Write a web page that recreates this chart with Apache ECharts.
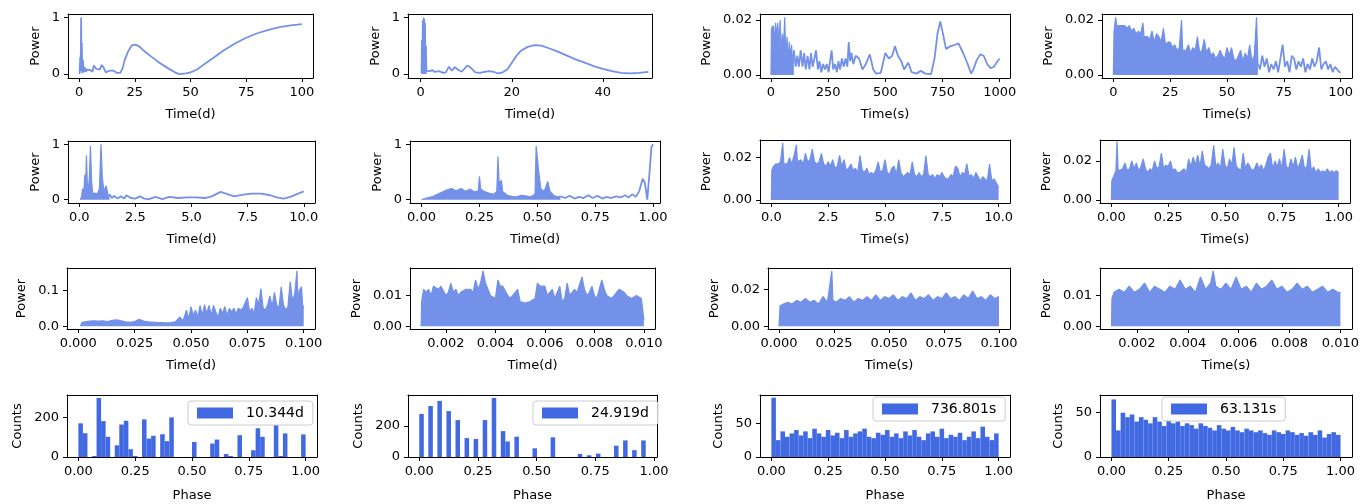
<!DOCTYPE html>
<html>
<head>
<meta charset="utf-8">
<script src="https://cdn.jsdelivr.net/npm/echarts@6/dist/echarts.min.js"></script>
<style>
  html, body { margin: 0; padding: 0; background: #fff; }
  #chart { width: 1362px; height: 504px; }
</style>
</head>
<body>
<div id="chart"></div>
<script>
// ---- Periodogram power vs. trial period ([period, power]) ----
const powDay100 = [[0.2,0.0],[0.5,0.3],[0.7,0.05],[0.9,1.0],[1.05,0.1],[1.2,0.55],[1.4,0.02],[1.7,0.25],[2.0,0.03],[2.5,0.12],[3.0,0.04],[3.5,0.08],[4,0.05],[5,0.07],[6,0.04],[6.6,0.15],[7.7,0.09],[8.5,0.06],[9.2,0.08],[10.2,0.16],[11,0.11],[12,0.03],[13,0.05],[14,0.06],[15.5,0.06],[17,0.02],[18.5,0.02],[19.5,0.1],[20.5,0.25],[22,0.4],[23.5,0.5],[25,0.52],[26.5,0.5],[28,0.45],[30,0.38],[33,0.29],[36,0.2],[40,0.1],[43,0.03],[45,0.0],[48,0.01],[50,0.03],[53,0.08],[56,0.17],[60,0.28],[65,0.42],[70,0.54],[75,0.64],[80,0.72],[85,0.78],[90,0.83],[95,0.86],[100,0.88]];
const powDay50 = [[0.1,0.02],[0.2,0.6],[0.3,0.1],[0.4,0.95],[0.5,0.2],[0.6,1.0],[0.7,0.3],[0.8,0.98],[0.9,0.15],[1.0,0.9],[1.1,0.1],[1.2,0.5],[1.3,0.05],[1.6,0.08],[2.0,0.05],[2.5,0.07],[3,0.04],[4,0.05],[5,0.02],[5.5,0.03],[6.2,0.13],[6.8,0.06],[7.5,0.12],[8.3,0.07],[9,0.04],[10.2,0.15],[11,0.11],[12,0.03],[13,0.02],[14,0.04],[15,0.05],[16,0.04],[17,0.01],[18,0.03],[19,0.08],[20,0.2],[21,0.32],[22,0.41],[23.5,0.48],[25,0.51],[26.5,0.5],[28,0.46],[30,0.4],[32,0.33],[34,0.26],[36,0.2],[38,0.14],[40,0.09],[42,0.05],[44,0.02],[46,0.01],[48,0.02],[50,0.04]];
const powSec1000 = [[0,0.0],[2,0.017],[10,0.018],[15,0.012],[20,0.019],[25,0.014],[30,0.019],[35,0.01],[40,0.02],[45,0.008],[50,0.015],[55,0.01],[60,0.021],[65,0.006],[70,0.014],[75,0.005],[80,0.012],[85,0.006],[90,0.011],[95,0.004],[100,0.009],[108,0.003],[115,0.007],[122,0.003],[130,0.009],[138,0.003],[145,0.008],[152,0.002],[160,0.007],[168,0.002],[175,0.008],[182,0.003],[190,0.006],[197,0.009],[205,0.002],[212,0.005],[220,0.001],[228,0.004],[236,0.002],[244,0.004],[252,0.001],[260,0.006],[265,0.009],[272,0.002],[280,0.004],[288,0.001],[295,0.005],[302,0.002],[310,0.006],[318,0.003],[326,0.006],[334,0.003],[340,0.012],[346,0.005],[352,0.008],[360,0.004],[370,0.007],[385,0.006],[400,0.002],[415,0.004],[432,0.0075],[447,0.002],[460,0.0005],[480,0.0008],[500,0.008],[515,0.006],[530,0.007],[542,0.0105],[555,0.007],[570,0.005],[582,0.002],[600,0.0045],[615,0.001],[635,0.0005],[655,0.0015],[675,0.0005],[700,0.0003],[715,0.006],[728,0.015],[740,0.0195],[752,0.015],[765,0.0095],[785,0.0105],[805,0.011],[820,0.0115],[840,0.008],[860,0.004],[875,0.0005],[885,0.002],[900,0.0055],[915,0.0075],[930,0.007],[945,0.004],[960,0.0025],[975,0.003],[990,0.005],[1000,0.006]];
const powSec100 = [[0,0.0],[0.3,0.016],[1,0.021],[1.5,0.018],[3,0.018],[5,0.018],[6,0.017],[7,0.018],[8,0.016],[9,0.017],[10,0.015],[11,0.016],[12,0.015],[13,0.019],[13.5,0.014],[15,0.014],[16,0.013],[17,0.016],[18,0.012],[19,0.015],[20,0.014],[21,0.012],[22,0.017],[23,0.011],[24,0.012],[25,0.012],[26,0.01],[27,0.011],[28,0.009],[29,0.01],[30,0.02],[30.5,0.009],[32,0.009],[33,0.011],[34,0.008],[35,0.01],[36,0.009],[37,0.014],[38,0.008],[39,0.009],[40,0.013],[41,0.008],[42,0.01],[43,0.007],[44,0.008],[45,0.006],[46,0.007],[47,0.009],[48,0.007],[49,0.006],[50,0.01],[51,0.007],[52,0.01],[53,0.006],[54,0.005],[55,0.007],[56,0.009],[57,0.005],[58,0.008],[59,0.006],[60,0.011],[61,0.005],[62,0.007],[63,0.021],[63.6,0.004],[64.5,0.002],[65.5,0.007],[66.5,0.003],[67.5,0.006],[68.5,0.001],[69.5,0.004],[70.5,0.002],[71.5,0.005],[72.5,0.001],[73.5,0.006],[74.5,0.011],[75.5,0.003],[76.5,0.005],[77.5,0.001],[78.5,0.007],[79.5,0.006],[80.5,0.002],[81.5,0.005],[82.5,0.003],[83.5,0.006],[84.5,0.001],[85.5,0.004],[86.5,0.002],[87.5,0.006],[88.5,0.003],[89.5,0.005],[90.5,0.01],[91.5,0.002],[92.5,0.004],[93.5,0.005],[94.5,0.002],[95.5,0.004],[96.5,0.001],[97.5,0.003],[98.5,0.002],[99.5,0.001],[100,0.001]];

const powDay10 = [[0.05,0.0],[0.1,0.05],[0.15,0.2],[0.2,0.1],[0.25,0.45],[0.28,0.2],[0.32,0.8],[0.36,0.3],[0.4,0.15],[0.45,0.4],[0.5,0.97],[0.55,0.35],[0.6,0.1],[0.7,0.12],[0.8,0.1],[0.9,0.2],[0.97,1.0],[1.03,0.4],[1.1,0.15],[1.2,0.25],[1.3,0.05],[1.35,0.1],[1.45,0.03],[1.55,0.07],[1.7,0.02],[1.85,0.06],[2.0,0.02],[2.1,0.08],[2.3,0.03],[2.5,0.02],[2.7,0.06],[2.9,0.02],[3.1,0.01],[3.4,0.05],[3.7,0.01],[4.0,0.05],[4.4,0.03],[4.8,0.04],[5.2,0.04],[5.6,0.03],[5.9,0.06],[6.3,0.14],[6.6,0.1],[6.9,0.06],[7.3,0.09],[7.7,0.11],[8.1,0.11],[8.5,0.08],[8.8,0.04],[9.1,0.02],[9.4,0.05],[9.7,0.1],[10,0.15]];
const powDay1 = [[0,0.0],[0.005,0.03],[0.03,0.04],[0.05,0.06],[0.07,0.1],[0.09,0.14],[0.11,0.18],[0.13,0.2],[0.15,0.16],[0.17,0.2],[0.19,0.15],[0.21,0.19],[0.23,0.14],[0.245,0.16],[0.25,0.42],[0.255,0.2],[0.27,0.15],[0.29,0.12],[0.31,0.1],[0.325,0.15],[0.33,0.78],[0.335,0.3],[0.345,0.35],[0.35,0.15],[0.37,0.08],[0.39,0.06],[0.41,0.05],[0.43,0.08],[0.45,0.07],[0.47,0.05],[0.49,0.1],[0.495,0.97],[0.505,0.55],[0.515,0.2],[0.53,0.15],[0.545,0.33],[0.555,0.15],[0.57,0.08],[0.585,0.05],[0.6,0.06],[0.62,0.03],[0.64,0.07],[0.66,0.02],[0.68,0.05],[0.7,0.03],[0.72,0.08],[0.74,0.03],[0.76,0.07],[0.78,0.02],[0.8,0.05],[0.82,0.03],[0.84,0.06],[0.86,0.04],[0.88,0.08],[0.895,0.04],[0.91,0.1],[0.925,0.05],[0.94,0.15],[0.955,0.38],[0.965,0.3],[0.975,0.0],[0.985,0.5],[0.993,0.95],[1.0,1.0]];
const powSec10 = [[0,0],[0.02,0.014],[0.1,0.016],[0.2,0.017],[0.3,0.017],[0.4,0.018],[0.5,0.027],[0.55,0.017],[0.7,0.017],[0.8,0.02],[0.9,0.017],[1.0,0.021],[1.1,0.026],[1.15,0.018],[1.3,0.019],[1.4,0.017],[1.5,0.022],[1.6,0.018],[1.7,0.019],[1.8,0.024],[1.9,0.018],[2.0,0.017],[2.1,0.018],[2.2,0.022],[2.3,0.017],[2.4,0.016],[2.5,0.018],[2.6,0.016],[2.7,0.019],[2.8,0.015],[2.9,0.016],[3.0,0.021],[3.1,0.016],[3.2,0.019],[3.3,0.014],[3.4,0.015],[3.5,0.017],[3.6,0.014],[3.7,0.015],[3.8,0.013],[3.9,0.021],[4.0,0.014],[4.1,0.013],[4.2,0.015],[4.3,0.012],[4.4,0.013],[4.5,0.012],[4.6,0.014],[4.7,0.018],[4.8,0.013],[4.9,0.014],[5.0,0.019],[5.1,0.013],[5.2,0.012],[5.3,0.015],[5.4,0.016],[5.5,0.012],[5.6,0.019],[5.7,0.013],[5.8,0.011],[5.9,0.012],[6.0,0.013],[6.1,0.012],[6.2,0.018],[6.3,0.012],[6.4,0.011],[6.5,0.013],[6.6,0.011],[6.7,0.012],[6.8,0.021],[6.9,0.012],[7.0,0.011],[7.1,0.012],[7.2,0.01],[7.3,0.012],[7.4,0.011],[7.5,0.013],[7.6,0.011],[7.7,0.01],[7.8,0.01],[7.9,0.012],[8.0,0.011],[8.1,0.016],[8.2,0.015],[8.3,0.011],[8.4,0.013],[8.5,0.012],[8.6,0.017],[8.7,0.011],[8.8,0.012],[8.9,0.01],[9.0,0.013],[9.1,0.011],[9.2,0.009],[9.3,0.011],[9.4,0.01],[9.5,0.009],[9.6,0.017],[9.7,0.009],[9.8,0.01],[9.9,0.008],[10.0,0.006]];
const powSec1 = [[0,0],[0.002,0.01],[0.01,0.012],[0.02,0.015],[0.025,0.03],[0.03,0.015],[0.05,0.016],[0.06,0.019],[0.07,0.015],[0.08,0.016],[0.09,0.02],[0.1,0.016],[0.11,0.019],[0.12,0.015],[0.13,0.017],[0.14,0.021],[0.15,0.016],[0.16,0.014],[0.17,0.016],[0.18,0.015],[0.19,0.02],[0.2,0.016],[0.21,0.017],[0.22,0.024],[0.23,0.016],[0.24,0.018],[0.25,0.017],[0.26,0.02],[0.27,0.015],[0.28,0.016],[0.29,0.014],[0.3,0.014],[0.31,0.015],[0.32,0.016],[0.33,0.014],[0.34,0.021],[0.35,0.017],[0.36,0.022],[0.37,0.018],[0.38,0.023],[0.39,0.017],[0.4,0.025],[0.41,0.018],[0.42,0.017],[0.43,0.016],[0.44,0.018],[0.45,0.028],[0.46,0.017],[0.47,0.019],[0.48,0.016],[0.49,0.026],[0.5,0.018],[0.51,0.016],[0.52,0.021],[0.53,0.018],[0.54,0.027],[0.55,0.017],[0.56,0.016],[0.57,0.015],[0.58,0.024],[0.59,0.016],[0.6,0.019],[0.61,0.017],[0.62,0.015],[0.63,0.016],[0.64,0.019],[0.65,0.016],[0.66,0.018],[0.67,0.015],[0.68,0.018],[0.69,0.022],[0.7,0.024],[0.71,0.016],[0.72,0.02],[0.73,0.017],[0.74,0.021],[0.75,0.016],[0.76,0.026],[0.77,0.017],[0.78,0.016],[0.79,0.021],[0.8,0.017],[0.81,0.022],[0.82,0.016],[0.83,0.019],[0.84,0.023],[0.85,0.016],[0.86,0.017],[0.87,0.026],[0.88,0.015],[0.89,0.017],[0.9,0.014],[0.91,0.016],[0.92,0.014],[0.93,0.015],[0.94,0.014],[0.95,0.016],[0.96,0.014],[0.97,0.015],[0.98,0.014],[0.99,0.015],[1.0,0.014]];

const powDay01 = [[0.001,0],[0.0015,0.01],[0.003,0.012],[0.005,0.014],[0.007,0.015],[0.009,0.014],[0.011,0.015],[0.013,0.013],[0.015,0.016],[0.017,0.018],[0.019,0.015],[0.021,0.012],[0.023,0.011],[0.025,0.013],[0.027,0.019],[0.029,0.014],[0.031,0.012],[0.033,0.011],[0.035,0.01],[0.037,0.01],[0.039,0.009],[0.041,0.01],[0.043,0.012],[0.045,0.025],[0.0465,0.015],[0.048,0.045],[0.049,0.02],[0.05,0.055],[0.051,0.03],[0.052,0.045],[0.053,0.025],[0.054,0.058],[0.055,0.03],[0.056,0.06],[0.057,0.035],[0.058,0.058],[0.059,0.03],[0.06,0.058],[0.061,0.04],[0.062,0.025],[0.063,0.05],[0.064,0.035],[0.065,0.055],[0.066,0.03],[0.067,0.05],[0.068,0.04],[0.069,0.05],[0.07,0.035],[0.071,0.05],[0.072,0.045],[0.073,0.05],[0.074,0.065],[0.075,0.08],[0.076,0.04],[0.077,0.05],[0.078,0.035],[0.079,0.08],[0.08,0.06],[0.081,0.105],[0.082,0.05],[0.083,0.045],[0.084,0.06],[0.085,0.085],[0.086,0.055],[0.087,0.095],[0.088,0.06],[0.089,0.05],[0.09,0.11],[0.091,0.06],[0.092,0.045],[0.093,0.055],[0.094,0.125],[0.095,0.07],[0.096,0.09],[0.097,0.155],[0.0975,0.06],[0.098,0.1],[0.099,0.11],[0.0995,0.06],[0.1,0.05]];
const powDay001 = [[0.001,0.0],[0.00102,0.008],[0.0011,0.012],[0.0012,0.011],[0.0013,0.012],[0.0014,0.01],[0.0015,0.013],[0.0017,0.012],[0.0018,0.013],[0.002,0.01],[0.0021,0.011],[0.0022,0.014],[0.0023,0.011],[0.0024,0.012],[0.0025,0.01],[0.0026,0.011],[0.0028,0.012],[0.003,0.012],[0.0031,0.011],[0.0032,0.015],[0.0033,0.012],[0.0034,0.014],[0.0035,0.018],[0.0036,0.014],[0.0037,0.012],[0.0038,0.01],[0.004,0.009],[0.0041,0.015],[0.0042,0.013],[0.0043,0.013],[0.0045,0.01],[0.0046,0.009],[0.0048,0.011],[0.0049,0.012],[0.005,0.008],[0.0052,0.0075],[0.0054,0.008],[0.0056,0.009],[0.0057,0.014],[0.0058,0.013],[0.006,0.013],[0.0061,0.01],[0.0062,0.011],[0.0063,0.012],[0.0064,0.009],[0.0066,0.013],[0.0067,0.008],[0.0068,0.009],[0.0069,0.014],[0.007,0.01],[0.0072,0.012],[0.0073,0.011],[0.0075,0.016],[0.0076,0.012],[0.0077,0.01],[0.0078,0.011],[0.0079,0.013],[0.008,0.01],[0.0081,0.009],[0.0082,0.012],[0.0083,0.015],[0.0084,0.012],[0.0085,0.01],[0.0087,0.009],[0.0088,0.01],[0.009,0.012],[0.0092,0.011],[0.0093,0.01],[0.0095,0.009],[0.0097,0.01],[0.0099,0.009],[0.01,0.002]];
const powSec01 = [[0,0],[0.0005,0.011],[0.002,0.012],[0.004,0.013],[0.006,0.012],[0.008,0.014],[0.01,0.013],[0.012,0.015],[0.014,0.013],[0.016,0.014],[0.018,0.012],[0.02,0.016],[0.022,0.013],[0.024,0.03],[0.0245,0.014],[0.026,0.013],[0.028,0.015],[0.03,0.014],[0.032,0.016],[0.034,0.013],[0.036,0.015],[0.038,0.014],[0.04,0.016],[0.042,0.014],[0.044,0.017],[0.046,0.014],[0.048,0.016],[0.05,0.015],[0.052,0.017],[0.054,0.014],[0.056,0.016],[0.058,0.015],[0.06,0.018],[0.062,0.014],[0.064,0.016],[0.066,0.015],[0.068,0.017],[0.07,0.014],[0.072,0.016],[0.074,0.015],[0.076,0.018],[0.078,0.015],[0.08,0.016],[0.082,0.014],[0.084,0.017],[0.086,0.015],[0.088,0.019],[0.09,0.015],[0.092,0.016],[0.094,0.014],[0.096,0.017],[0.098,0.015],[0.1,0.016]];
const powSec001 = [[0.001,0],[0.00102,0.009],[0.0011,0.011],[0.0013,0.012],[0.0015,0.011],[0.0017,0.013],[0.0019,0.011],[0.0021,0.012],[0.0023,0.014],[0.0025,0.011],[0.0027,0.013],[0.0029,0.012],[0.0031,0.011],[0.0033,0.013],[0.0035,0.012],[0.0037,0.015],[0.0039,0.012],[0.0041,0.013],[0.0043,0.011],[0.0045,0.016],[0.0047,0.012],[0.0049,0.014],[0.005,0.018],[0.0051,0.013],[0.0053,0.012],[0.0055,0.014],[0.0057,0.012],[0.0059,0.016],[0.0061,0.012],[0.0063,0.013],[0.0065,0.011],[0.0067,0.014],[0.0069,0.012],[0.0071,0.013],[0.0073,0.015],[0.0075,0.012],[0.0077,0.013],[0.0079,0.011],[0.0081,0.012],[0.0083,0.014],[0.0085,0.012],[0.0087,0.013],[0.0089,0.011],[0.0091,0.012],[0.0093,0.013],[0.0095,0.011],[0.0097,0.012],[0.0099,0.011],[0.01,0.011]];

// ---- Phase-folded histograms (counts per phase bin) ----
const foldA = { label: '10.344d', binWidth: 0.02, counts: [170,120,0,5,298,181,102,0,59,164,183,39,5,0,190,93,107,0,115,80,200,0,0,0,0,76,0,0,0,68,88,0,15,5,0,110,0,0,34,145,102,0,0,161,5,119,0,0,0,114] };
const foldB = { label: '24.919d', binWidth: 0.0193, counts: [278,0,329,0,362,0,296,0,238,0,122,0,116,0,238,0,381,0,167,100,0,131,0,0,0,56,0,0,0,127,0,0,0,0,0,20,0,11,0,22,0,0,0,73,0,107,0,44,0,107] };
const foldC = { label: '736.801s', binWidth: 0.02, counts: [88,25,38,30,35,40,32,38,28,42,35,30,40,32,36,28,40,30,35,38,42,30,28,36,33,40,30,35,28,38,32,40,30,25,35,38,30,42,28,33,30,36,25,30,38,28,45,30,25,35] };
const foldD = { label: '63.131s', binWidth: 0.02, counts: [65,30,50,45,48,40,45,42,38,45,40,35,42,38,40,35,38,36,32,38,35,33,30,36,32,30,34,30,28,32,30,28,30,27,25,30,28,26,30,28,25,27,24,28,25,30,22,26,28,25] };

// ---- Tick values ----
const ticksPow01 = [0, 1];
const ticksPowSmall = [0, 0.02];
const ticksPow1 = [0, 0.1];
const ticksPow001 = [0, 0.01];
const ticksDay100 = [0, 25, 50, 75, 100];
const ticksDay50 = [0, 20, 40];
const ticksSec1000 = [0, 250, 500, 750, 1000];
const ticksTen = [0, 2.5, 5, 7.5, 10];
const ticksUnit = [0, 0.25, 0.5, 0.75, 1];
const ticksTenth = [0, 0.025, 0.05, 0.075, 0.1];
const ticksHundredth = [0.002, 0.004, 0.006, 0.008, 0.01];
const ticksCount200 = [0, 200];
const ticksCount50 = [0, 50];

const FONT = 'DejaVu Sans';
const FS = 13;
const LEGEND_FS = 14;
const LINE_COLOR = '#7391e8';
const BAR_COLOR = '#4169e1';
const TICK_LEN = 4;
const LABEL_MARGIN = 8;
const YNAME_PAD = 10;

// panel: box = [left, top, right, bottom] in px, xGap = distance from axis to its title
const panels = [
  { box: [68, 14, 313, 78], xGap: 30, data: powDay100, fillTo: 0, x: { min: -5, max: 105, ticks: ticksDay100, dec: 0, name: 'Time(d)' }, y: { min: -0.07, max: 1.06, ticks: ticksPow01, dec: 0, name: 'Power' } },
  { box: [408, 14, 652, 78], xGap: 30, data: powDay50, fillTo: 1.3, x: { min: -2.8, max: 50.8, ticks: ticksDay50, dec: 0, name: 'Time(d)' }, y: { min: -0.07, max: 1.06, ticks: ticksPow01, dec: 0, name: 'Power' } },
  { box: [760, 14, 1010, 78], xGap: 30, data: powSec1000, fillTo: 100, x: { min: -48, max: 1045, ticks: ticksSec1000, dec: 0, name: 'Time(s)' }, y: { min: -0.0011, max: 0.0222, ticks: ticksPowSmall, dec: 2, name: 'Power' } },
  { box: [1102, 14, 1352, 78], xGap: 30, data: powSec100, fillTo: 63.6, x: { min: -5, max: 105, ticks: ticksDay100, dec: 0, name: 'Time(s)' }, y: { min: -0.0011, max: 0.0222, ticks: ticksPowSmall, dec: 2, name: 'Power' } },

  { box: [68, 141, 315, 203], xGap: 30, data: powDay10, fillTo: 1.35, x: { min: -0.5, max: 10.5, ticks: ticksTen, dec: 1, name: 'Time(d)' }, y: { min: -0.06, max: 1.06, ticks: ticksPow01, dec: 0, name: 'Power' } },
  { box: [410, 141, 660, 203], xGap: 30, data: powDay1, fillTo: 0.6, x: { min: -0.05, max: 1.03, ticks: ticksUnit, dec: 2, name: 'Time(d)' }, y: { min: -0.06, max: 1.06, ticks: ticksPow01, dec: 0, name: 'Power' } },
  { box: [760, 140, 1010, 203], xGap: 30, data: powSec10, fillTo: Infinity, x: { min: -0.5, max: 10.5, ticks: ticksTen, dec: 1, name: 'Time(s)' }, y: { min: -0.0014, max: 0.0283, ticks: ticksPowSmall, dec: 2, name: 'Power' } },
  { box: [1100, 140, 1350, 203], xGap: 30, data: powSec1, fillTo: Infinity, x: { min: -0.05, max: 1.05, ticks: ticksUnit, dec: 2, name: 'Time(s)' }, y: { min: -0.0015, max: 0.0307, ticks: ticksPowSmall, dec: 2, name: 'Power' } },

  { box: [67, 268, 315, 329], xGap: 30, data: powDay01, fillTo: Infinity, x: { min: -0.005, max: 0.105, ticks: ticksTenth, dec: 3, name: 'Time(d)' }, y: { min: -0.008, max: 0.163, ticks: ticksPow1, dec: 1, name: 'Power' } },
  { box: [410, 268, 655, 329], xGap: 30, data: powDay001, fillTo: Infinity, x: { min: 0.00055, max: 0.01045, ticks: ticksHundredth, dec: 3, name: 'Time(d)' }, y: { min: -0.0009, max: 0.0189, ticks: ticksPow001, dec: 2, name: 'Power' } },
  { box: [768, 268, 1010, 329], xGap: 30, data: powSec01, fillTo: Infinity, x: { min: -0.005, max: 0.105, ticks: ticksTenth, dec: 3, name: 'Time(s)' }, y: { min: -0.0015, max: 0.0315, ticks: ticksPowSmall, dec: 2, name: 'Power' } },
  { box: [1100, 268, 1352, 329], xGap: 30, data: powSec001, fillTo: Infinity, x: { min: 0.00055, max: 0.01045, ticks: ticksHundredth, dec: 3, name: 'Time(s)' }, y: { min: -0.0009, max: 0.0189, ticks: ticksPow001, dec: 2, name: 'Power' } },

  { box: [67, 395, 317, 457], xGap: 32, hist: foldA, legendAt: [188, 401], x: { min: -0.05, max: 1.05, ticks: ticksUnit, dec: 2, name: 'Phase' }, y: { min: 0, max: 313, ticks: ticksCount200, dec: 0, name: 'Counts' } },
  { box: [408, 395, 657, 457], xGap: 32, hist: foldB, legendAt: [533, 401], x: { min: -0.048, max: 1.013, ticks: ticksUnit, dec: 2, name: 'Phase' }, y: { min: 0, max: 400, ticks: ticksCount200, dec: 0, name: 'Counts' } },
  { box: [760, 395, 1010, 457], xGap: 32, hist: foldC, legendAt: [873, 397], x: { min: -0.05, max: 1.05, ticks: ticksUnit, dec: 2, name: 'Phase' }, y: { min: 0, max: 92, ticks: ticksCount50, dec: 0, name: 'Counts' } },
  { box: [1100, 395, 1352, 457], xGap: 32, hist: foldD, legendAt: [1162, 397], x: { min: -0.05, max: 1.05, ticks: ticksUnit, dec: 2, name: 'Phase' }, y: { min: 0, max: 70, ticks: ticksCount50, dec: 0, name: 'Counts' } }
];

const measureCtx = document.createElement('canvas').getContext('2d');
function widestLabel(ticks, dec) {
  measureCtx.font = FS + 'px "' + FONT + '"';
  return Math.max.apply(null, ticks.map(t => measureCtx.measureText(t.toFixed(dec)).width));
}

const frameLine = { show: true, onZero: false, lineStyle: { color: '#000', width: 1 } };

function makeAxis(a, gridIndex, dim, gap) {
  const isY = dim === 'y';
  return {
    type: 'value',
    gridIndex: gridIndex,
    position: isY ? 'left' : 'bottom',
    min: a.min,
    max: a.max,
    name: a.name,
    nameLocation: 'middle',
    nameRotate: isY ? 90 : 0,
    nameGap: isY ? LABEL_MARGIN + widestLabel(a.ticks, a.dec) + YNAME_PAD : gap,
    nameTextStyle: { fontFamily: FONT, fontSize: FS, color: '#000' },
    axisLine: frameLine,
    splitLine: { show: false },
    axisTick: { show: true, inside: false, length: TICK_LEN, customValues: a.ticks, lineStyle: { color: '#000', width: 1 } },
    axisLabel: {
      show: true, customValues: a.ticks, margin: LABEL_MARGIN, hideOverlap: false,
      fontFamily: FONT, fontSize: FS, color: '#000',
      formatter: v => Number(v).toFixed(a.dec)
    }
  };
}

// bare axis on the opposite side, used only to close the box around each panel
function makeFrameAxis(a, gridIndex, dim) {
  return {
    type: 'value', gridIndex: gridIndex, min: a.min, max: a.max,
    position: dim === 'y' ? 'right' : 'top',
    axisLine: frameLine, axisTick: { show: false }, axisLabel: { show: false }, splitLine: { show: false }
  };
}

const grids = [], xAxes = [], yAxes = [], series = [], legends = [];

panels.forEach((p, i) => {
  const [l, t, r, b] = p.box;
  grids.push({ left: l, top: t, width: r - l, height: b - t });
  xAxes.push(makeAxis(p.x, i, 'x', p.xGap));
  yAxes.push(makeAxis(p.y, i, 'y'));

  if (p.hist) {
    const h = p.hist;
    const bins = h.counts.map((c, k) => [k * h.binWidth, (k + 1) * h.binWidth, c]);
    series.push({
      name: h.label,
      type: 'custom',
      xAxisIndex: i, yAxisIndex: i,
      itemStyle: { color: BAR_COLOR },
      encode: { x: [0, 1], y: 2 },
      clip: true,
      data: bins,
      renderItem: function (params, api) {
        const p0 = api.coord([api.value(0), 0]);
        const p1 = api.coord([api.value(1), api.value(2)]);
        return { type: 'rect', shape: { x: p0[0], y: p1[1], width: p1[0] - p0[0], height: p0[1] - p1[1] }, style: { fill: BAR_COLOR } };
      }
    });
    legends.push({
      data: [h.label], left: p.legendAt[0], top: p.legendAt[1],
      icon: 'rect', itemWidth: 36, itemHeight: 11,
      padding: [5, 9, 5, 9], backgroundColor: 'rgba(255,255,255,0.8)',
      borderColor: '#cccccc', borderWidth: 1, borderRadius: 3,
      selectedMode: false,
      textStyle: { fontFamily: FONT, fontSize: LEGEND_FS, color: '#000', padding: [0, 0, 0, 8] }
    });
  } else {
    const dense = p.data.filter(d => d[0] <= p.fillTo);
    const sparse = p.data.filter(d => d[0] >= p.fillTo);
    if (dense.length > 1) {
      series.push({
        type: 'line', xAxisIndex: i, yAxisIndex: i, data: dense,
        showSymbol: false, silent: true,
        lineStyle: { color: LINE_COLOR, width: 1.2 },
        areaStyle: { color: LINE_COLOR, opacity: 1 }
      });
    }
    if (sparse.length > 1) {
      series.push({
        type: 'line', xAxisIndex: i, yAxisIndex: i, data: sparse,
        showSymbol: false, silent: true,
        lineStyle: { color: LINE_COLOR, width: 1.8 }
      });
    }
  }
});

panels.forEach((p, i) => {
  xAxes.push(makeFrameAxis(p.x, i, 'x'));
  yAxes.push(makeFrameAxis(p.y, i, 'y'));
});

const chart = echarts.init(document.getElementById('chart'), null, { renderer: 'canvas' });
chart.setOption({
  animation: false,
  backgroundColor: '#fff',
  grid: grids,
  xAxis: xAxes,
  yAxis: yAxes,
  legend: legends,
  series: series
});
</script>
</body>
</html>
